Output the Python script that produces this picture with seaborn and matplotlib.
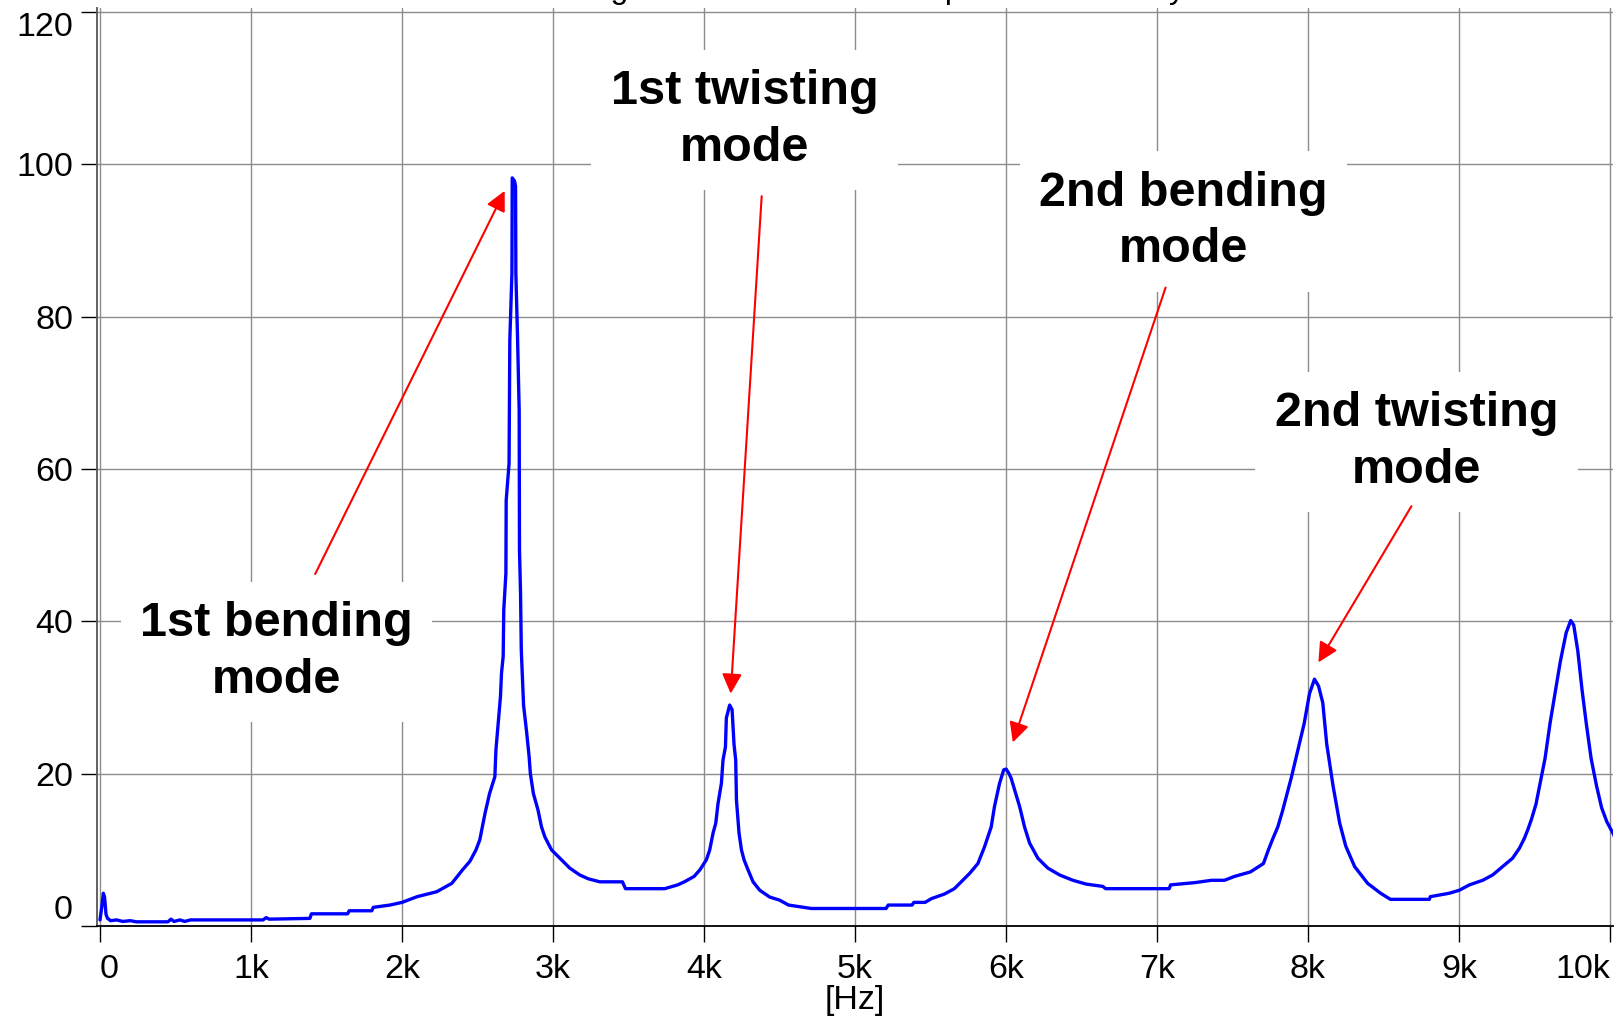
import matplotlib
matplotlib.use("Agg")
import matplotlib.pyplot as plt
import seaborn as sns

sns.set_theme(style="whitegrid")
plt.rcParams["font.family"] = ["Liberation Sans", "DejaVu Sans"]

# spectrum: frequency [Hz] / amplitude
freq = [0, 15, 22, 30, 40, 50, 70, 110, 150, 200,
        240, 450, 470, 490, 530, 560, 600, 1080, 1100, 1120,
        1390, 1400, 1640, 1650, 1800, 1810, 1920, 2000, 2100, 2230,
        2330, 2400, 2450, 2490, 2515, 2550, 2580, 2615, 2622, 2637,
        2652, 2659, 2670, 2674, 2688, 2690, 2709, 2714, 2728, 2730,
        2745, 2752, 2754, 2765, 2776, 2778, 2785, 2790, 2805, 2825,
        2842, 2850, 2870, 2901, 2924, 2946, 2990, 3056, 3111, 3177,
        3233, 3310, 3460, 3480, 3740, 3826, 3870, 3934, 3972, 4016,
        4038, 4060, 4078, 4093, 4115, 4126, 4142, 4148, 4170, 4186,
        4199, 4210, 4215, 4232, 4248, 4265, 4292, 4325, 4369, 4435,
        4500, 4560, 4710, 5206, 5220, 5378, 5390, 5464, 5507, 5593,
        5658, 5693, 5759, 5814, 5858, 5902, 5924, 5957, 5985, 6001,
        6020, 6034, 6057, 6090, 6123, 6156, 6211, 6277, 6355, 6443,
        6531, 6641, 6660, 7081, 7090, 7253, 7361, 7447, 7512, 7619,
        7705, 7738, 7768, 7800, 7830, 7858, 7890, 7926, 7975, 8010,
        8043, 8070, 8098, 8124, 8166, 8210, 8250, 8309, 8395, 8481,
        8546, 8804, 8810, 8936, 9003, 9069, 9157, 9223, 9289, 9355,
        9400, 9433, 9455, 9480, 9510, 9534, 9570, 9603, 9640, 9671,
        9710, 9740, 9760, 9787, 9815, 9843, 9875, 9911, 9945, 9979,
        10027, 10040]
amp = [0.8, 3.0, 4.3, 3.8, 1.5, 1.0, 0.7, 0.8, 0.6, 0.7,
       0.55, 0.55, 0.9, 0.6, 0.8, 0.6, 0.8, 0.8, 1.1, 0.9,
       1.0, 1.6, 1.6, 2.0, 2.0, 2.45, 2.75, 3.1, 3.85, 4.5,
       5.6, 7.35, 8.5, 10.0, 11.3, 14.8, 17.4, 19.6, 23.1, 26.6,
       30.1, 33.2, 35.4, 41.5, 46.3, 55.9, 60.7, 76.9, 85.7, 98.2,
       97.8, 97.1, 85.7, 77.4, 67.7, 49.4, 43.7, 36.2, 29.0, 25.5,
       22.2, 20.0, 17.4, 15.2, 13.0, 11.7, 10.0, 8.7, 7.6, 6.7,
       6.2, 5.8, 5.8, 4.9, 4.9, 5.4, 5.8, 6.5, 7.35, 8.7,
       10.0, 12.2, 13.5, 16.1, 18.7, 21.8, 23.5, 27.3, 29.0, 28.4,
       23.8, 21.8, 16.5, 12.2, 10.0, 8.7, 7.35, 5.8, 4.7, 3.8,
       3.4, 2.75, 2.3, 2.3, 2.75, 2.75, 3.1, 3.1, 3.6, 4.2,
       4.9, 5.6, 6.9, 8.2, 10.4, 13.0, 15.7, 18.7, 20.5, 20.6,
       20.0, 19.4, 17.9, 15.7, 13.0, 10.9, 8.9, 7.6, 6.7, 6.0,
       5.5, 5.2, 4.9, 4.9, 5.4, 5.7, 6.0, 6.0, 6.5, 7.1,
       8.2, 10.0, 11.5, 13.0, 15.0, 17.1, 19.5, 22.5, 26.6, 30.5,
       32.4, 31.5, 29.3, 23.9, 18.4, 13.5, 10.5, 7.8, 5.6, 4.3,
       3.5, 3.5, 3.85, 4.3, 4.7, 5.4, 6.0, 6.7, 7.8, 8.9,
       10.2, 11.5, 12.6, 14.0, 16.0, 18.4, 22.0, 26.6, 31.0, 34.7,
       38.5, 40.1, 39.5, 36.1, 31.0, 26.6, 22.0, 18.4, 15.5, 13.7,
       11.9, 11.0]

xticks = [0, 1000, 2000, 3000, 4000, 5000, 6000, 7000, 8000, 9000, 10000]
xtick_labels = ["0", "1k", "2k", "3k", "4k", "5k", "6k", "7k", "8k", "9k", "10k"]
yticks = [0, 20, 40, 60, 80, 100, 120]

# mode labels: text, label position, arrow tail and tip
mode_names = ["1st bending\nmode", "1st twisting\nmode", "2nd bending\nmode", "2nd twisting\nmode"]
label_pos = [(1168, 36.0), (4270, 105.8), (7176, 92.5), (8718, 63.5)]
arrow_tail = [(1425, 46.2), (4382, 95.8), (7057, 83.8), (8685, 55.1)]
arrow_head = [(2680, 96.5), (4177, 30.5), (6045, 24.1), (8069, 34.6)]

fig = plt.figure(figsize=(16.21, 10.19), dpi=100)
ax = fig.add_axes([0.05965, 0.09126, 0.93541, 0.90089])
ax.set_facecolor("white")

sns.lineplot(x=freq, y=amp, ax=ax, color="#0000ff", linewidth=2.4,
             estimator=None, zorder=3)

ax.set_xlim(-22, 10020)
ax.set_ylim(0, 120.5)
ax.set_xticks(xticks)
ax.set_xticklabels(xtick_labels)
ax.set_yticks(yticks)
ax.set_yticklabels([str(v) for v in yticks])

ax.grid(True, color="#8c8c8c", linewidth=1.0, zorder=0)
for side in ["top", "right"]:
    ax.spines[side].set_visible(False)
ax.spines["left"].set_color("#555555")
ax.spines["left"].set_linewidth(1.3)
ax.spines["bottom"].set_color("black")
ax.spines["bottom"].set_linewidth(1.3)

ax.tick_params(axis="both", direction="out", length=11.5, width=1.0, color="black",
               labelsize=24.5, labelcolor="black", left=True, bottom=True)
ax.tick_params(axis="y", pad=5.5)
ax.tick_params(axis="x", pad=9)

# end labels kept inside the axis range, like the original
yt = ax.yaxis.get_major_ticks()
yt[0].label1.set_verticalalignment("bottom")
yt[-1].label1.set_verticalalignment("top")
xt = ax.xaxis.get_major_ticks()
xt[0].label1.set_horizontalalignment("left")
xt[-1].label1.set_horizontalalignment("right")

ax.set_xlabel("[Hz]", fontsize=24.5, color="black", labelpad=0)
ax.set_ylabel("")

for name, pos in zip(mode_names, label_pos):
    ax.text(pos[0], pos[1], name, ha="center", va="center", fontsize=35,
            fontweight="bold", color="black", linespacing=1.33, zorder=4,
            bbox=dict(boxstyle="square,pad=0.4", facecolor="white", edgecolor="none"))

for tail, head in zip(arrow_tail, arrow_head):
    ax.annotate("", xy=head, xytext=tail,
                arrowprops=dict(arrowstyle="-|>", color="red", lw=1.5,
                                mutation_scale=30, shrinkA=0, shrinkB=0),
                zorder=5)

# title sits mostly above the canvas, only descenders show
fig.text(0.3079, 1.0015, "FFT magnitude of the blade response for the dry test",
         ha="left", va="baseline", fontsize=23, color="black")

fig.savefig("out.png", dpi=100)
